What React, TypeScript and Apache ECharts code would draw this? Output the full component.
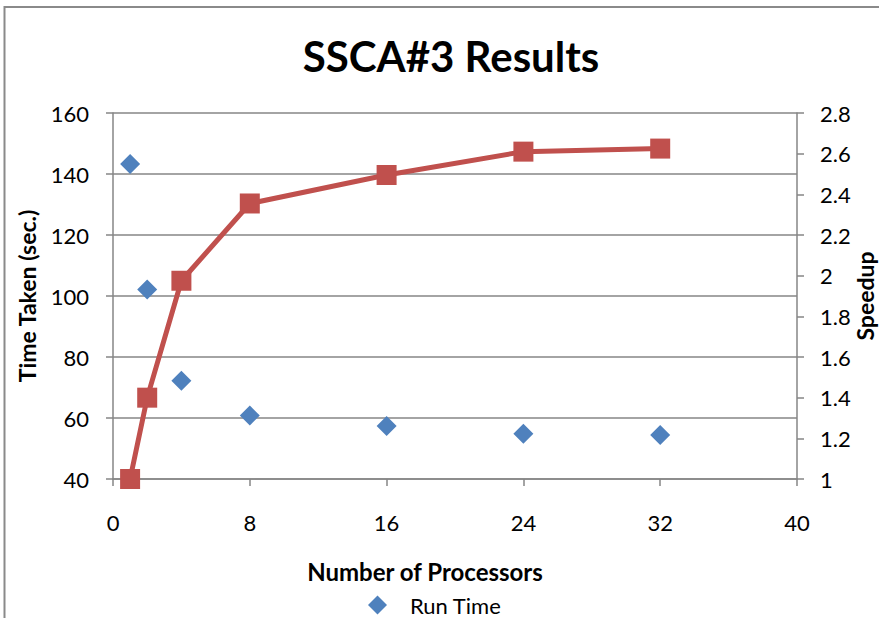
import React, { useEffect, useRef } from "react";
import * as echarts from "echarts";

const processors = [1, 2, 4, 8, 16, 24, 32];
const runTime = [143.3, 102.1, 72.2, 60.8, 57.4, 54.8, 54.4];
const speedup = [1.0, 1.4, 1.975, 2.355, 2.495, 2.61, 2.625];
const xTicks = { min: 0, max: 40, interval: 8 };
const leftTicks = { min: 40, max: 160, interval: 20 };
const rightTicks = { min: 1, max: 2.8, interval: 0.2 };

const FONT = "Lato, 'Open Sans', sans-serif";

export default function App() {
  const ref = useRef<HTMLDivElement>(null);
  useEffect(() => {
    document.body.style.margin = "0";
    const chart = echarts.init(ref.current!, null, { renderer: "svg" });
    const axisLine = { show: true, lineStyle: { color: "#868686", width: 1.5 } };
    const tick = { show: true, length: 7, lineStyle: { color: "#868686", width: 1.5 } };
    const nameStyle = {
      fontFamily: FONT,
      fontSize: 23,
      fontWeight: "bold",
      fill: "#000",
      align: "center",
      verticalAlign: "middle",
    };
    chart.setOption({
      animation: false,
      backgroundColor: "#fff",
      textStyle: { fontFamily: FONT },
      title: {
        text: "SSCA#3 Results",
        left: 446,
        top: 30,
        textAlign: "center",
        textStyle: { fontFamily: FONT, fontSize: 42, fontWeight: "bold", color: "#000" },
      },
      legend: {
        data: [{ name: "Run Time", icon: "diamond" }],
        left: 363,
        top: 589,
        itemWidth: 19,
        itemHeight: 19,
        textStyle: { fontFamily: FONT, fontSize: 22, lineHeight: 22, color: "#000", padding: [0, 0, 0, 18] },
      },
      graphic: [
        {
          type: "rect",
          shape: { x: 4.5, y: 7, width: 1000, height: 1000 },
          style: { fill: "none", stroke: "#8a8a8a", lineWidth: 2 },
          silent: true,
        },
        {
          type: "text",
          x: 425,
          y: 571,
          style: { ...nameStyle, text: "Number of Processors", fontSize: 24 },
        },
        {
          type: "text",
          x: 27,
          y: 296,
          rotation: Math.PI / 2,
          style: { ...nameStyle, text: "Time Taken (sec.)" },
        },
        {
          type: "text",
          x: 865,
          y: 296,
          rotation: Math.PI / 2,
          style: { ...nameStyle, text: "Speedup" },
        },
      ],
      grid: { left: 113, right: 82, top: 113, bottom: 139, containLabel: false, outerBoundsMode: "none" },
      xAxis: {
        type: "value",
        min: xTicks.min,
        max: xTicks.max,
        interval: xTicks.interval,
        axisLine,
        axisTick: tick,
        axisLabel: { fontSize: 22, color: "#000", margin: 32, fontFamily: FONT },
        splitLine: { show: false },
      },
      yAxis: [
        {
          type: "value",
          min: leftTicks.min,
          max: leftTicks.max,
          interval: leftTicks.interval,
          axisLine,
          axisTick: tick,
          axisLabel: { fontSize: 22, color: "#000", margin: 24, fontFamily: FONT },
          splitLine: { show: true, lineStyle: { color: "#868686", width: 1.5 } },
        },
        {
          type: "value",
          position: "right",
          min: rightTicks.min,
          max: rightTicks.max,
          interval: rightTicks.interval,
          axisLine,
          axisTick: tick,
          axisLabel: { fontSize: 22, color: "#000", margin: 23, fontFamily: FONT },
          splitLine: { show: false },
        },
      ],
      series: [
        {
          name: "Run Time",
          type: "scatter",
          symbol: "diamond",
          symbolSize: 20,
          yAxisIndex: 0,
          itemStyle: { color: "#4F81BD", opacity: 1 },
          data: processors.map((p, i) => [p, runTime[i]]),
          z: 3,
        },
        {
          name: "Speedup",
          type: "line",
          symbol: "rect",
          symbolSize: 20,
          yAxisIndex: 1,
          lineStyle: { color: "#C0504D", width: 5 },
          itemStyle: { color: "#C0504D" },
          data: processors.map((p, i) => [p, speedup[i]]),
          z: 4,
        },
      ],
    });
    return () => chart.dispose();
  }, []);
  return <div ref={ref} style={{ width: 879, height: 618 }} />;
}
